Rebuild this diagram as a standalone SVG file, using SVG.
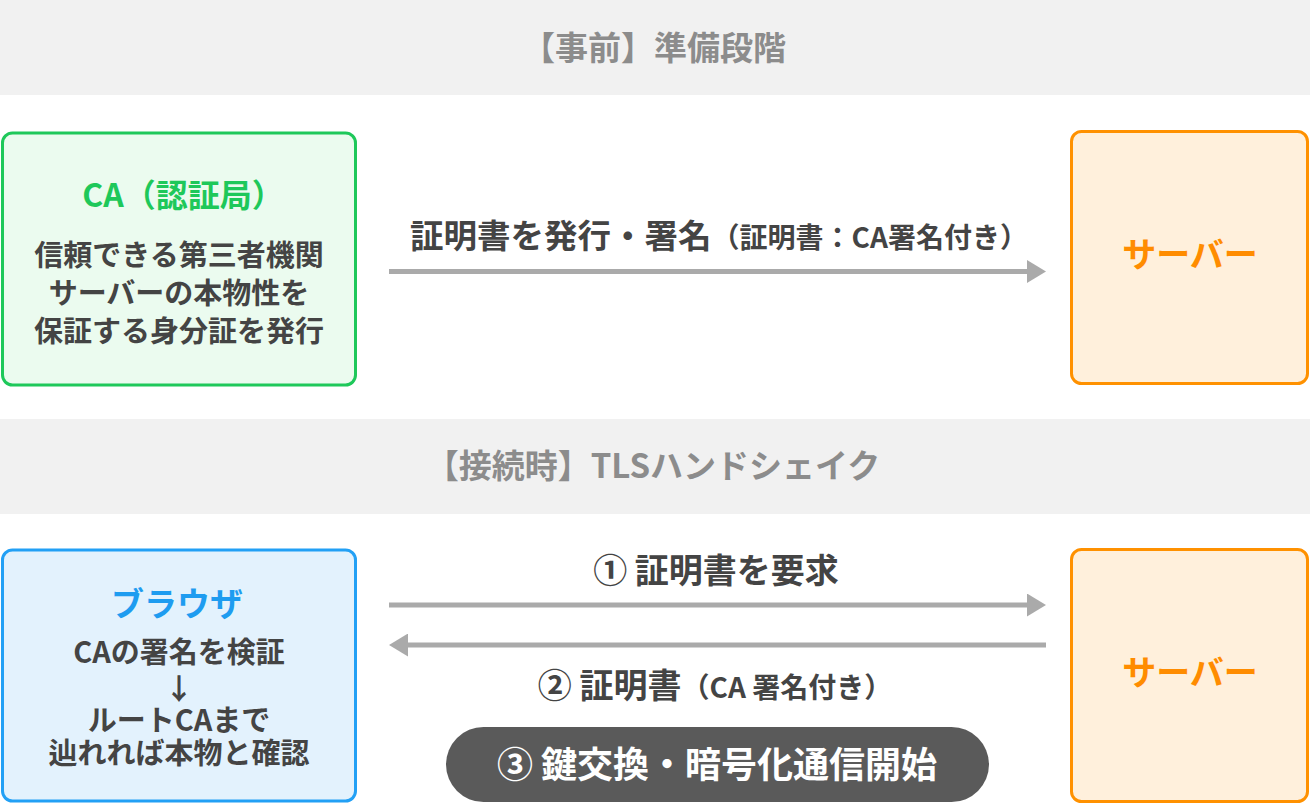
<svg xmlns="http://www.w3.org/2000/svg" width="1310" height="805" viewBox="0 0 1310 805">
<defs>
<style>
text{font-family:"Noto Sans CJK JP","Noto Sans",sans-serif;font-weight:700;text-anchor:middle}
.band{fill:#f1f1f1}
.head{font-size:33px;fill:#8c8c8c}
.body{font-size:29px;fill:#444444}
.lbl{fill:#444444}
.conn{stroke:#aaaaaa;stroke-width:5;fill:none}
.srv rect{fill:#fff0dc;stroke:#ff9100;stroke-width:3}
.srv text{font-size:34px;fill:#ff8c00}
</style>
<marker id="ah" markerWidth="19" markerHeight="23" refX="0" refY="11.5" orient="auto" markerUnits="userSpaceOnUse">
<path d="M0,0 L19,11.5 L0,23 Z" fill="#aaaaaa"/>
</marker>
</defs>
<rect width="1310" height="805" fill="#ffffff"/>
<g id="band-prep">
<rect class="band" x="0" y="0" width="1310" height="95"/>
<text class="head" x="654" y="60">【事前】準備段階</text>
</g>
<g id="band-connect">
<rect class="band" x="0" y="419" width="1310" height="95"/>
<text class="head" x="653" y="478">【接続時】TLSハンドシェイク</text>
</g>
<g id="ca">
<rect x="2.5" y="133" width="353" height="252" rx="10" fill="#ebfbef" stroke="#1ec85a" stroke-width="3"/>
<text x="183" y="207" font-size="32" fill="#1ec85a">CA（認証局）</text>
<text class="body"><tspan x="179" y="266">信頼できる第三者機関</tspan><tspan x="179" y="304">サーバーの本物性を</tspan><tspan x="179" y="342">保証する身分証を発行</tspan></text>
</g>
<g id="server1" class="srv">
<rect x="1071.5" y="131.5" width="236" height="252" rx="10"/>
<text x="1190" y="267">サーバー</text>
</g>
<g id="browser">
<rect x="2.5" y="550" width="353" height="251" rx="10" fill="#e3f2fd" stroke="#22a0f5" stroke-width="3"/>
<text x="177" y="616" font-size="33" fill="#1e9cf0">ブラウザ</text>
<text class="body"><tspan x="179" y="663">CAの署名を検証</tspan><tspan x="179" y="700">↓</tspan><tspan x="179" y="731">ルートCAまで</tspan><tspan x="179" y="764">辿れれば本物と確認</tspan></text>
</g>
<g id="server2" class="srv">
<rect x="1071.5" y="549.5" width="236" height="252" rx="10"/>
<text x="1190" y="685">サーバー</text>
</g>
<g id="connectors">
<line class="conn" x1="389" y1="271.5" x2="1027" y2="271.5" marker-end="url(#ah)"/>
<line class="conn" x1="389" y1="605" x2="1027" y2="605" marker-end="url(#ah)"/>
<line class="conn" x1="1046" y1="645" x2="408" y2="645" marker-end="url(#ah)"/>
</g>
<g id="labels">
<text class="lbl" x="719" y="248"><tspan font-size="33.5">証明書を発行・署名</tspan><tspan font-size="28">（証明書：CA署名付き）</tspan></text>
<text class="lbl" x="716" y="583" font-size="34">① 証明書を要求</text>
<text class="lbl" x="715" y="698"><tspan font-size="34">② 証明書</tspan><tspan font-size="28">（CA 署名付き）</tspan></text>
</g>
<g id="step3">
<rect x="446" y="727" width="543" height="75" rx="37.5" fill="#5a5a5a"/>
<text x="717" y="778" font-size="36" fill="#ffffff">③ 鍵交換・暗号化通信開始</text>
</g>
</svg>
